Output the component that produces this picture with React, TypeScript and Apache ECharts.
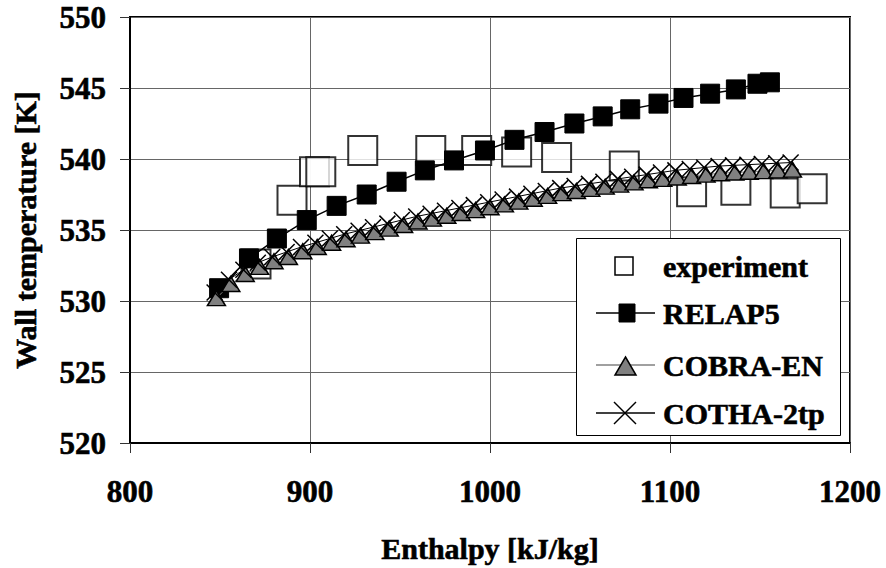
import React, { useEffect, useRef } from "react";
import * as echarts from "echarts";

const FONT = "Liberation Serif, Times New Roman, serif";

const seriesNames = ["experiment", "RELAP5", "COBRA-EN", "COTHA-2tp"];

const xTicks = [800, 900, 1000, 1100, 1200];
const yTicks = [520, 525, 530, 535, 540, 545, 550];

const expX = [870, 890, 902.5, 906, 929.3, 967.1, 992.6, 1014.8, 1037, 1074.6, 1112, 1136.6, 1164, 1179];
const expY = [532.6, 537.1, 539.1, 539.1, 540.6, 540.6, 540.6, 540.5, 540.1, 539.5, 537.7, 537.8, 537.6, 537.9];

const relapX = [849.5, 866.1, 881.6, 898.2, 914.8, 931.5, 948.1, 963.8, 980, 997.2, 1013.6, 1030.3, 1046.9, 1062.6, 1077.9, 1093.6, 1107.5, 1122.3, 1136.6, 1148.6, 1155.5];
const relapY = [530.9, 533.0, 534.4, 535.7, 536.7, 537.5, 538.4, 539.2, 539.9, 540.6, 541.35, 541.9, 542.5, 543.0, 543.5, 543.9, 544.3, 544.6, 544.9, 545.3, 545.4];

const cobraX = [848, 856, 864, 872, 880, 888, 896, 904, 912, 920, 928, 936, 944, 952, 960, 968, 976, 984, 992, 1000, 1008, 1016, 1024, 1032, 1040, 1048, 1056, 1064, 1072, 1080, 1088, 1096, 1104, 1112, 1120, 1128, 1136, 1144, 1152, 1160, 1168];
const cobraY = [530.2, 531.2, 531.9, 532.4, 532.8, 533.1, 533.5, 533.8, 534.1, 534.35, 534.6, 534.85, 535.1, 535.35, 535.6, 535.8, 536.0, 536.2, 536.4, 536.6, 536.8, 537.0, 537.2, 537.4, 537.6, 537.75, 537.9, 538.05, 538.2, 538.35, 538.5, 538.6, 538.7, 538.8, 538.9, 539.0, 539.05, 539.1, 539.15, 539.2, 539.25];

const cothaX = [847, 855, 863, 871, 879, 887, 895, 903, 911, 919, 927, 935, 943, 951, 959, 967, 975, 983, 991, 999, 1007, 1015, 1023, 1031, 1039, 1047, 1055, 1063, 1071, 1079, 1087, 1095, 1103, 1111, 1119, 1127, 1135, 1143, 1151, 1159, 1167];
const cothaY = [530.6, 531.5, 532.2, 532.7, 533.1, 533.45, 533.8, 534.1, 534.4, 534.7, 534.95, 535.2, 535.45, 535.7, 535.95, 536.15, 536.35, 536.55, 536.75, 536.95, 537.15, 537.35, 537.55, 537.75, 537.95, 538.1, 538.25, 538.4, 538.6, 538.75, 538.9, 539.05, 539.2, 539.3, 539.4, 539.5, 539.55, 539.6, 539.65, 539.7, 539.75];

const pairs = (xs: number[], ys: number[]) => xs.map((x, i) => [x, ys[i]]);

const CROSS = "path://M0,0L10,10M10,0L0,10";

export default function App() {
  const ref = useRef<HTMLDivElement>(null);
  useEffect(() => {
    if (!ref.current) return;
    const chart = echarts.init(ref.current, undefined, { renderer: "svg" });
    const textBase = {
      fontFamily: FONT,
      fontWeight: "bold" as const,
      color: "#000",
      textBorderColor: "#000",
      textBorderWidth: 0.6,
    };
    const legendItems = [
      { y: 266, name: seriesNames[0] },
      { y: 313, name: seriesNames[1] },
      { y: 365, name: seriesNames[2] },
      { y: 413, name: seriesNames[3] },
    ];
    const graphic: any[] = [
      { type: "rect", shape: { x: 576.5, y: 238.5, width: 264, height: 197 }, style: { fill: "#fff", stroke: "#000", lineWidth: 1 }, z: 100 },
      { type: "rect", shape: { x: 615, y: 257, width: 18, height: 18 }, style: { fill: "#fff", stroke: "#000", lineWidth: 1.5 }, z: 101 },
      { type: "line", shape: { x1: 596, y1: 313, x2: 655, y2: 313 }, style: { stroke: "#000", lineWidth: 1.5 }, z: 101 },
      { type: "rect", shape: { x: 619, y: 304, width: 16, height: 18 }, style: { fill: "#000", stroke: "#000", lineWidth: 1 }, z: 101 },
      { type: "line", shape: { x1: 596, y1: 365, x2: 655, y2: 365 }, style: { stroke: "#808080", lineWidth: 1.5 }, z: 101 },
      { type: "polygon", shape: { points: [[625.5, 357], [636, 375], [615, 375]] }, style: { fill: "#808080", stroke: "#000", lineWidth: 1.5 }, z: 101 },
      { type: "line", shape: { x1: 596, y1: 413, x2: 655, y2: 413 }, style: { stroke: "#000", lineWidth: 1.5 }, z: 101 },
      { type: "line", shape: { x1: 614, y1: 402, x2: 636, y2: 424 }, style: { stroke: "#000", lineWidth: 1.5 }, z: 101 },
      { type: "line", shape: { x1: 614, y1: 424, x2: 636, y2: 402 }, style: { stroke: "#000", lineWidth: 1.5 }, z: 101 },
    ];
    legendItems.forEach((it) => {
      graphic.push({
        type: "text",
        x: 663,
        y: it.y,
        style: {
          text: it.name,
          fontFamily: FONT,
          fontWeight: "bold",
          fontSize: 30,
          fill: "#000",
          stroke: "#000",
          lineWidth: 0.6,
          verticalAlign: "middle",
          align: "left",
        },
        z: 102,
      });
    });

    chart.setOption({
      animation: false,
      backgroundColor: "#fff",
      textStyle: { fontFamily: FONT },
      grid: {
        left: 130,
        right: 36,
        top: 17,
        bottom: 125,
        containLabel: false,
        outerBoundsMode: "none",
        show: true,
        borderColor: "#000",
        borderWidth: 2,
        backgroundColor: "transparent",
      },
      xAxis: {
        type: "value",
        min: xTicks[0],
        max: xTicks[xTicks.length - 1],
        interval: 100,
        name: "Enthalpy [kJ/kg]",
        nameLocation: "middle",
        nameGap: 90,
        nameTextStyle: { ...textBase, fontSize: 30 },
        axisLine: { show: true, onZero: false, lineStyle: { color: "#000", width: 2 } },
        axisTick: { show: true, length: 10, lineStyle: { color: "#333", width: 1 } },
        axisLabel: { ...textBase, fontSize: 31, margin: 33, formatter: (v: number) => String(v) },
        splitLine: { show: true, lineStyle: { color: "#666", width: 1 } },
      },
      yAxis: {
        type: "value",
        min: yTicks[0],
        max: yTicks[yTicks.length - 1],
        interval: 5,
        name: "Wall temperature [K]",
        nameLocation: "middle",
        nameGap: 90,
        nameTextStyle: { ...textBase, fontSize: 30 },
        axisLine: { show: true, onZero: false, lineStyle: { color: "#000", width: 2 } },
        axisTick: { show: true, length: 10, lineStyle: { color: "#333", width: 1 } },
        axisLabel: { ...textBase, fontSize: 31, margin: 24, formatter: (v: number) => String(v) },
        splitLine: { show: true, lineStyle: { color: "#666", width: 1 } },
      },
      series: [
        {
          name: seriesNames[0],
          type: "scatter",
          data: pairs(expX, expY),
          symbol: "rect",
          symbolSize: 29,
          itemStyle: { color: "#fff", borderColor: "#000", borderWidth: 2 },
          z: 2,
        },
        {
          name: seriesNames[1],
          type: "line",
          data: pairs(relapX, relapY),
          symbol: "rect",
          symbolSize: 19,
          showAllSymbol: true,
          lineStyle: { color: "#000", width: 1.5 },
          itemStyle: { color: "#000", borderColor: "#000", borderWidth: 1 },
          z: 3,
        },
        {
          name: seriesNames[2],
          type: "line",
          data: pairs(cobraX, cobraY),
          symbol: "triangle",
          symbolSize: [18, 15],
          showAllSymbol: true,
          lineStyle: { color: "#808080", width: 1 },
          itemStyle: { color: "#808080", borderColor: "#000", borderWidth: 1.5 },
          z: 4,
        },
        {
          name: seriesNames[3],
          type: "line",
          data: pairs(cothaX, cothaY),
          symbol: CROSS,
          symbolSize: 16,
          showAllSymbol: true,
          lineStyle: { color: "#000", width: 1 },
          itemStyle: { color: "none", borderColor: "#000", borderWidth: 1.5 },
          z: 5,
        },
      ],
      graphic,
    });
    return () => chart.dispose();
  }, []);
  return <div ref={ref} style={{ position: "fixed", left: 0, top: 0, width: 886, height: 568, background: "#fff" }} />;
}
